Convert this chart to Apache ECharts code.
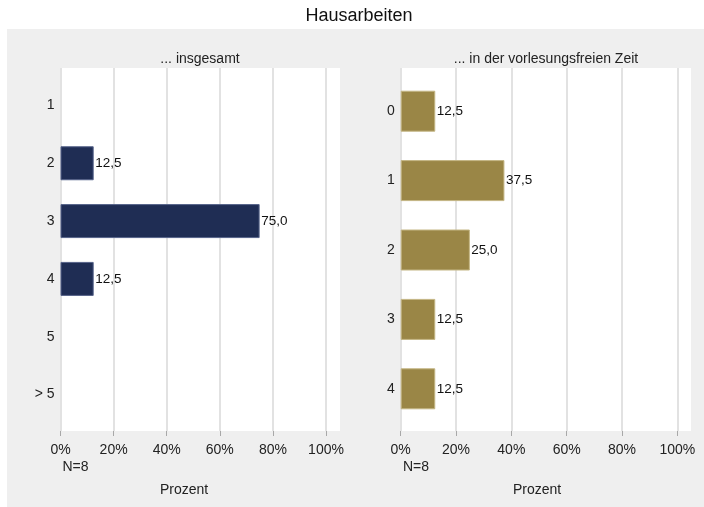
<!DOCTYPE html>
<html>
<head>
<meta charset="utf-8">
<script src="https://cdn.jsdelivr.net/npm/echarts@6/dist/echarts.min.js"></script>
<style>html,body{margin:0;padding:0;background:#fff}#c{width:704px;height:507px}</style>
</head>
<body>
<div id="c"></div>
<script>
var chartTitle = 'Hausarbeiten';
var leftTitle = '... insgesamt';
var rightTitle = '... in der vorlesungsfreien Zeit';
var leftCats = ['1', '2', '3', '4', '5', '> 5'];
var leftVals = [null, 12.5, 75.0, 12.5, null, null];
var rightCats = ['0', '1', '2', '3', '4'];
var rightVals = [12.5, 37.5, 25.0, 12.5, 12.5];
var xTicks = [0, 20, 40, 60, 80, 100];
var nLabel = 'N=8';
var axisTitle = 'Prozent';

var FONT = '"Liberation Sans", Arial, sans-serif';
var chart = echarts.init(document.getElementById('c'), null, {renderer: 'canvas'});

function fmt(p) { return p.value == null ? '' : p.value.toFixed(1).replace('.', ','); }

function bgX(gi) {
  return {
    gridIndex: gi, type: 'value', min: xTicks[0], max: xTicks[xTicks.length - 1],
    interval: xTicks[1] - xTicks[0],
    axisLine: {show: false},
    axisTick: {show: true, length: 5, lineStyle: {color: '#a8a8a8', width: 1}},
    axisLabel: {show: true, margin: 12, fontSize: 14, color: '#222', fontFamily: FONT,
      formatter: function (v) { return v + '%'; }},
    splitLine: {show: true, lineStyle: {color: '#d8d8d8', width: 1.5}}
  };
}
function barX(gi) {
  return {gridIndex: gi, type: 'value', min: xTicks[0], max: xTicks[xTicks.length - 1], show: false,
    splitLine: {show: false}};
}
function catY(gi, cats) {
  return {gridIndex: gi, type: 'category', data: cats, inverse: true,
    axisLine: {show: false}, axisTick: {show: false}, splitLine: {show: false},
    axisLabel: {margin: 6, fontSize: 14, color: '#222', fontFamily: FONT}};
}
function txt(s, x, y, align) {
  return {type: 'text', z: 10, style: {text: s, x: x, y: y, textAlign: align, textVerticalAlign: 'middle',
    font: '14px ' + FONT, fill: '#222'}};
}

var option = {
  backgroundColor: '#ffffff',
  animation: false,
  graphic: [
    {type: 'rect', z: -10, shape: {x: 7, y: 29, width: 697, height: 478}, style: {fill: '#efefef'}, silent: true},
    {type: 'rect', z: -9, shape: {x: 60, y: 68, width: 280, height: 363}, style: {fill: '#ffffff'}, silent: true},
    {type: 'rect', z: -9, shape: {x: 400, y: 68, width: 291, height: 363}, style: {fill: '#ffffff'}, silent: true},
    {type: 'text', z: 10, style: {text: chartTitle, x: 359, y: 16.5, textAlign: 'center', textVerticalAlign: 'middle',
      font: '18px ' + FONT, fill: '#111'}},
    txt(leftTitle, 200, 59, 'center'),
    txt(rightTitle, 546, 59, 'center'),
    txt(nLabel, 62.5, 467, 'left'),
    txt(nLabel, 403, 467, 'left'),
    txt(axisTitle, 184, 490, 'center'),
    txt(axisTitle, 537, 490, 'center')
  ],
  grid: [
    {left: 60.5, top: 68, width: 265.5, height: 363, containLabel: false},
    {left: 60.5, top: 76.5, width: 265.5, height: 347, containLabel: false},
    {left: 400.7, top: 68, width: 276.6, height: 363, containLabel: false},
    {left: 400.7, top: 76.5, width: 276.6, height: 347, containLabel: false}
  ],
  xAxis: [bgX(0), barX(1), bgX(2), barX(3)],
  yAxis: [
    {gridIndex: 0, type: 'value', show: false, splitLine: {show: false}},
    catY(1, leftCats),
    {gridIndex: 2, type: 'value', show: false, splitLine: {show: false}},
    catY(3, rightCats)
  ],
  series: [
    {type: 'bar', xAxisIndex: 1, yAxisIndex: 1, data: leftVals, barWidth: 34,
      itemStyle: {color: '#1f2d54', borderColor: '#56638a', borderWidth: 1},
      label: {show: true, position: 'right', distance: 1.5, fontSize: 13.5, color: '#111', fontFamily: FONT, formatter: fmt}},
    {type: 'bar', xAxisIndex: 3, yAxisIndex: 3, data: rightVals, barWidth: 41,
      itemStyle: {color: '#9a8646', borderColor: '#c4b684', borderWidth: 1},
      label: {show: true, position: 'right', distance: 1.5, fontSize: 13.5, color: '#111', fontFamily: FONT, formatter: fmt}}
  ]
};
chart.setOption(option);
</script>
</body>
</html>
